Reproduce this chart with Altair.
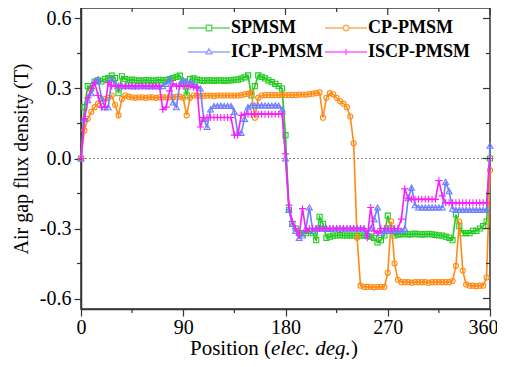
import altair as alt
import pandas as pd

positions = list(range(0, 361, 3))

spmsm = [
    0.00, 0.22, 0.31, 0.30, 0.33, 0.335, 0.33, 0.34, 0.345, 0.355,
    0.345, 0.28, 0.352, 0.34, 0.335, 0.338, 0.335, 0.333, 0.335, 0.336,
    0.335, 0.333, 0.335, 0.337, 0.335, 0.335, 0.34, 0.345, 0.35, 0.355,
    0.33, 0.27, 0.34, 0.343, 0.338, 0.335, 0.333, 0.335, 0.335, 0.333,
    0.335, 0.335, 0.333, 0.335, 0.335, 0.337, 0.338, 0.342, 0.348, 0.356,
    0.27, 0.31, 0.356, 0.35, 0.343, 0.335, 0.327, 0.32, 0.31, 0.30,
    0.10, -0.22, -0.28, -0.30, -0.32, -0.32, -0.32, -0.31, -0.32, -0.35,
    -0.25, -0.28, -0.34, -0.335, -0.33, -0.33, -0.328, -0.33, -0.33, -0.33,
    -0.33, -0.332, -0.33, -0.33, -0.333, -0.335, -0.34, -0.36, -0.35, -0.33,
    -0.245, -0.30, -0.33, -0.325, -0.325, -0.323, -0.325, -0.325, -0.322, -0.325,
    -0.325, -0.325, -0.323, -0.325, -0.327, -0.33, -0.33, -0.335, -0.34, -0.35,
    -0.24, -0.29, -0.32, -0.32, -0.32, -0.31, -0.31, -0.30, -0.29, -0.27,
    0.00,
]

cp_pmsm = [
    0.00, 0.12, 0.17, 0.20, 0.22, 0.235, 0.245, 0.255, 0.26, 0.27,
    0.23, 0.185, 0.255, 0.27, 0.265, 0.262, 0.26, 0.262, 0.262, 0.26,
    0.262, 0.262, 0.26, 0.262, 0.262, 0.262, 0.262, 0.262, 0.265, 0.265,
    0.26, 0.185, 0.26, 0.27, 0.27, 0.268, 0.268, 0.27, 0.27, 0.268,
    0.27, 0.27, 0.27, 0.27, 0.27, 0.27, 0.27, 0.272, 0.275, 0.278,
    0.283, 0.175, 0.26, 0.27, 0.272, 0.272, 0.272, 0.272, 0.272, 0.272,
    0.272, 0.272, 0.272, 0.272, 0.274, 0.274, 0.274, 0.276, 0.278, 0.28,
    0.283, 0.175, 0.26, 0.28, 0.275, 0.26, 0.245, 0.235, 0.22, 0.18,
    0.065, -0.34, -0.545, -0.55, -0.55, -0.55, -0.552, -0.55, -0.55, -0.55,
    -0.49, -0.27, -0.45, -0.52, -0.53, -0.53, -0.53, -0.532, -0.53, -0.53,
    -0.53, -0.53, -0.532, -0.53, -0.53, -0.53, -0.53, -0.53, -0.53, -0.525,
    -0.46, -0.27, -0.48, -0.54, -0.545, -0.545, -0.547, -0.545, -0.545, -0.51,
    -0.05,
]

icp_pmsm = [
    0.00, 0.17, 0.25, 0.28, 0.33, 0.34, 0.26, 0.22, 0.22, 0.34,
    0.32, 0.31, 0.31, 0.312, 0.31, 0.31, 0.31, 0.31, 0.312, 0.31,
    0.31, 0.31, 0.31, 0.31, 0.31, 0.32, 0.34, 0.24, 0.22, 0.32,
    0.335, 0.33, 0.325, 0.32, 0.31, 0.30, 0.17, 0.135, 0.21, 0.225,
    0.225, 0.227, 0.225, 0.225, 0.225, 0.20, 0.11, 0.11, 0.17, 0.22,
    0.227, 0.227, 0.227, 0.228, 0.227, 0.227, 0.227, 0.228, 0.227, 0.21,
    0.00, -0.22, -0.28, -0.31, -0.34, -0.33, -0.30, -0.21, -0.31, -0.30,
    -0.30, -0.30, -0.30, -0.302, -0.30, -0.30, -0.30, -0.30, -0.30, -0.30,
    -0.30, -0.30, -0.30, -0.30, -0.32, -0.30, -0.26, -0.21, -0.32, -0.31,
    -0.31, -0.31, -0.31, -0.31, -0.31, -0.30, -0.17, -0.125, -0.20, -0.21,
    -0.21, -0.21, -0.21, -0.21, -0.21, -0.21, -0.21, -0.10, -0.14, -0.215,
    -0.22, -0.22, -0.22, -0.22, -0.22, -0.22, -0.22, -0.22, -0.22, -0.22,
    0.055,
]

iscp_pmsm = [
    0.00, 0.17, 0.26, 0.30, 0.325, 0.27, 0.22, 0.22, 0.325, 0.31,
    0.31, 0.31, 0.31, 0.31, 0.312, 0.31, 0.31, 0.31, 0.31, 0.31,
    0.31, 0.31, 0.31, 0.31, 0.21, 0.22, 0.29, 0.32, 0.31, 0.31,
    0.31, 0.31, 0.31, 0.305, 0.305, 0.135, 0.175, 0.176, 0.176, 0.176,
    0.176, 0.176, 0.176, 0.176, 0.176, 0.10, 0.10, 0.185, 0.19, 0.19,
    0.19, 0.19, 0.19, 0.19, 0.19, 0.19, 0.19, 0.19, 0.19, 0.19,
    0.02, -0.20, -0.27, -0.30, -0.33, -0.215, -0.31, -0.30, -0.30, -0.30,
    -0.30, -0.30, -0.30, -0.30, -0.30, -0.30, -0.30, -0.30, -0.30, -0.30,
    -0.30, -0.30, -0.30, -0.30, -0.34, -0.21, -0.31, -0.32, -0.30, -0.30,
    -0.30, -0.30, -0.30, -0.30, -0.26, -0.13, -0.17, -0.175, -0.175, -0.175,
    -0.175, -0.175, -0.175, -0.175, -0.175, -0.095, -0.16, -0.19, -0.19, -0.19,
    -0.19, -0.19, -0.19, -0.19, -0.19, -0.19, -0.19, -0.19, -0.19, -0.19,
    0.00,
]

series_names = ["SPMSM", "CP-PMSM", "ICP-PMSM", "ISCP-PMSM"]
series_values = [spmsm, cp_pmsm, icp_pmsm, iscp_pmsm]
series_colors = ["#1ECB1E", "#FF8A14", "#6E7EFF", "#FF1AFF"]
marker_shapes = ["square", "circle", "triangle-up", "M-1,0H1M0,-1V1"]
marker_sizes = [26, 26, 34, 50]
legend_paths = [
    "M-7,0H-0.9M0.9,0H7M-0.9,-0.9H0.9V0.9H-0.9Z",
    "M-7,0H-0.9A0.9,0.9 0 1,1 0.9,0A0.9,0.9 0 1,1 -0.9,0M0.9,0H7",
    "M-7,0H-0.6M0.6,0H7M0,-1.05L0.95,0.6H-0.95Z",
    "M-7,0H7M0,-1V1",
]

x_major_ticks = [0, 90, 180, 270, 360]
x_minor_ticks = [45, 135, 225, 315]
y_major_ticks = [-0.6, -0.3, 0.0, 0.3, 0.6]
y_minor_ticks = [-0.45, -0.15, 0.15, 0.45]

W, H = 409, 301
FONT = "Liberation Serif"
AX = "#333333"

xs = alt.Scale(domain=[0, 360], nice=False, zero=False)
ys = alt.Scale(domain=[-0.645, 0.645], nice=False, zero=False)

x_axis = alt.Axis(values=x_major_ticks, tickSize=7, tickWidth=1.2, tickColor=AX,
                  domainColor=AX, domainWidth=1.5, labelFont=FONT, labelFontSize=20,
                  labelColor="black", labelPadding=1, grid=False, title=None,
                  labelFlush=False, labelOverlap=False,
                  labelOffset={"condition": {"test": "datum.value === 360", "value": -7}, "value": 0})
y_axis = alt.Axis(values=y_major_ticks, tickSize=7, tickWidth=1.2, tickColor=AX,
                  domainColor=AX, domainWidth=1.5, labelFont=FONT, labelFontSize=20,
                  labelColor="black", labelPadding=3, grid=False,
                  labelExpr="replace(format(datum.value, '.1f'), '\u2212', '-')",
                  title="Air gap flux density (T)", titleFont=FONT, titleFontSize=20,
                  titleFontWeight="normal", titleColor="black", titlePadding=8,
                  labelFlush=False, labelOverlap=False)

X = alt.X("pos:Q", scale=xs, axis=x_axis)
Y = alt.Y("val:Q", scale=ys, axis=y_axis)

layers = []

# zero reference line
layers.append(
    alt.Chart(pd.DataFrame({"val": [0.0]})).mark_rule(
        color="#888888", strokeDash=[2, 2], strokeWidth=1
    ).encode(y=Y, x=alt.value(0), x2=alt.value(W))
)

for name, vals, col, shp, sz in zip(series_names, series_values, series_colors,
                                   marker_shapes, marker_sizes):
    d = pd.DataFrame({"pos": positions, "val": vals})
    ch = alt.Chart(d)
    layers.append(ch.mark_line(color=col, strokeWidth=1.6).encode(x=X, y=Y))
    layers.append(ch.mark_point(color=col, shape=shp, size=sz, filled=False,
                                strokeWidth=1.1, opacity=1).encode(x=X, y=Y))

# minor / mirrored ticks
xmaj = alt.Chart(pd.DataFrame({"pos": x_major_ticks}))
xmin = alt.Chart(pd.DataFrame({"pos": x_minor_ticks}))
ymaj = alt.Chart(pd.DataFrame({"val": y_major_ticks}))
ymin = alt.Chart(pd.DataFrame({"val": y_minor_ticks}))
tk = dict(color=AX, strokeWidth=1.2)
layers += [
    xmin.mark_rule(**tk).encode(x=X, y=alt.value(H), y2=alt.value(H + 4)),
    xmin.mark_rule(**tk).encode(x=X, y=alt.value(0), y2=alt.value(4)),
    xmaj.mark_rule(**tk).encode(x=X, y=alt.value(0), y2=alt.value(7)),
    ymin.mark_rule(**tk).encode(y=Y, x=alt.value(-4), x2=alt.value(0)),
    ymin.mark_rule(**tk).encode(y=Y, x=alt.value(W - 4), x2=alt.value(W)),
    ymaj.mark_rule(**tk).encode(y=Y, x=alt.value(W - 7), x2=alt.value(W)),
]

# x-axis title with italic part
title_parts = [("Position (", "normal", 109), ("elec. deg.", "italic", 190), (")", "normal", 270)]
for txt, style, xp in title_parts:
    layers.append(
        alt.Chart(pd.DataFrame({"t": [txt]})).mark_text(
            font=FONT, fontSize=21, fontStyle=style, align="left",
            baseline="alphabetic", color="black"
        ).encode(text="t:N", x=alt.value(xp), y=alt.value(H + 46))
    )

# legend layer (row-wise order as in the reference)
leg = alt.Legend(title=None, orient="none", legendX=119, legendY=11, columns=2,
                 direction="horizontal",
                 labelFont=FONT, labelFontWeight="bold", labelFontSize=18,
                 labelColor="black", symbolSize=36, symbolStrokeWidth=1.5,
                 symbolOffset=0, labelOffset=13, rowPadding=6, columnPadding=-1,
                 padding=0)
layers.append(
    alt.Chart(pd.DataFrame({"series": series_names})).mark_point(
        filled=False, clip=True, size=36, strokeWidth=1.5
    ).encode(
        x=alt.value(-300), y=alt.value(-300),
        color=alt.Color("series:N", scale=alt.Scale(domain=series_names, range=series_colors), legend=leg),
        shape=alt.Shape("series:N", scale=alt.Scale(domain=series_names, range=legend_paths), legend=leg),
    )
)

chart = alt.layer(*layers).properties(
    width=W, height=H,
    autosize=alt.AutoSizeParams(type="none"),
    padding={"left": 73, "top": 0, "right": 7, "bottom": 50},
).configure_view(stroke=AX, strokeWidth=1.5)

chart.save("out.html", embed_options={"renderer": "svg", "actions": False})
